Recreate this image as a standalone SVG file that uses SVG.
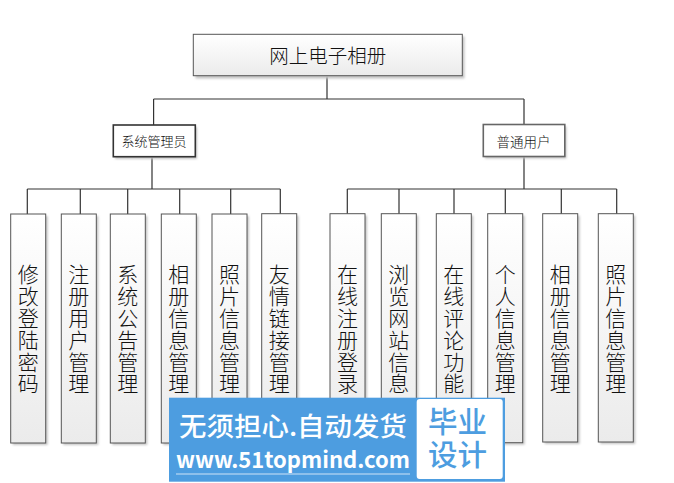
<svg xmlns="http://www.w3.org/2000/svg" width="674" height="483" viewBox="0 0 674 483">
<defs>
<linearGradient id="g" x1="0" y1="0" x2="0" y2="1">
<stop offset="0" stop-color="#ffffff"/>
<stop offset="1" stop-color="#ebebeb"/>
</linearGradient>
<filter id="sh" x="-20%" y="-20%" width="140%" height="140%">
<feGaussianBlur stdDeviation="1"/>
</filter>
</defs>
<style>
.box{fill:url(#g);stroke:#555;stroke-width:1}
.shadow{fill:#c4c4c4;filter:url(#sh)}
.mid{fill:#fff;stroke-width:1.6}
.t{font-family:"Noto Sans CJK SC","Noto Sans",sans-serif;font-weight:300;fill:#111;text-anchor:middle}
.v{font-size:21px}
.ln{stroke:#333;stroke-width:1.2;fill:none}
.wm{font-family:"Noto Sans CJK SC","Noto Sans",sans-serif}
</style>
<rect width="674" height="483" fill="#fff"/>

<g id="connectors">
<path class="ln" d="M327,76V99M153.6,99H524M153.6,99V125M524,99V125"/>
<path class="ln" d="M152,157V189M27.3,189H280.3M27.3,189V214M80.3,189V214M127.7,189V214M179.7,189V214M230.7,189V214M280.3,189V214"/>
<path class="ln" d="M524,157V189M347.3,189H616.7M347.3,189V214M399,189V214M454,189V214M505.3,189V214M561.3,189V214M616.7,189V214"/>
</g>

<g id="root">
<rect class="shadow" x="195.5" y="36.5" width="269" height="42"/>
<rect class="box" x="193.3" y="34.3" width="269" height="41.4"/>
<text class="t" x="327.8" y="63.4" font-size="19.5">网上电子相册</text>
</g>

<g id="admin">
<rect class="shadow" x="115" y="127" width="82" height="32"/>
<rect class="box mid" x="113.3" y="125" width="82" height="31.7" style="stroke:#333"/>
<text class="t" x="154" y="145.5" font-size="13">系统管理员</text>
</g>

<g id="user">
<rect class="shadow" x="485" y="126.5" width="81.5" height="32"/>
<rect class="box mid" x="483.3" y="124.5" width="81.5" height="32" style="stroke:#666"/>
<text class="t" x="523.5" y="146.5" font-size="13.5">普通用户</text>
</g>

<g id="n1"><rect class="shadow" x="12.7" y="216" width="35" height="229"/><rect class="box" x="10.7" y="214" width="35" height="229"/>
<text class="t v"><tspan x="28.2" y="282.4">修</tspan><tspan x="28.2" y="304.2">改</tspan><tspan x="28.2" y="326">登</tspan><tspan x="28.2" y="347.8">陆</tspan><tspan x="28.2" y="369.6">密</tspan><tspan x="28.2" y="391.4">码</tspan></text></g>

<g id="n2"><rect class="shadow" x="63.3" y="216" width="35" height="229"/><rect class="box" x="61.3" y="214" width="35" height="229"/>
<text class="t v"><tspan x="78.8" y="282.4">注</tspan><tspan x="78.8" y="304.2">册</tspan><tspan x="78.8" y="326">用</tspan><tspan x="78.8" y="347.8">户</tspan><tspan x="78.8" y="369.6">管</tspan><tspan x="78.8" y="391.4">理</tspan></text></g>

<g id="n3"><rect class="shadow" x="112.3" y="216" width="35" height="229"/><rect class="box" x="110.3" y="214" width="35" height="229"/>
<text class="t v"><tspan x="127.8" y="282.4">系</tspan><tspan x="127.8" y="304.2">统</tspan><tspan x="127.8" y="326">公</tspan><tspan x="127.8" y="347.8">告</tspan><tspan x="127.8" y="369.6">管</tspan><tspan x="127.8" y="391.4">理</tspan></text></g>

<g id="n4"><rect class="shadow" x="163.3" y="216" width="35" height="229"/><rect class="box" x="161.3" y="214" width="35" height="229"/>
<text class="t v"><tspan x="178.8" y="282.4">相</tspan><tspan x="178.8" y="304.2">册</tspan><tspan x="178.8" y="326">信</tspan><tspan x="178.8" y="347.8">息</tspan><tspan x="178.8" y="369.6">管</tspan><tspan x="178.8" y="391.4">理</tspan></text></g>

<g id="n5"><rect class="shadow" x="214" y="216" width="35" height="229"/><rect class="box" x="212" y="214" width="35" height="229"/>
<text class="t v"><tspan x="229.5" y="282.4">照</tspan><tspan x="229.5" y="304.2">片</tspan><tspan x="229.5" y="326">信</tspan><tspan x="229.5" y="347.8">息</tspan><tspan x="229.5" y="369.6">管</tspan><tspan x="229.5" y="391.4">理</tspan></text></g>

<g id="n6"><rect class="shadow" x="263.7" y="215.7" width="35" height="229"/><rect class="box" x="261.7" y="213.7" width="35" height="229"/>
<text class="t v"><tspan x="279.2" y="282.4">友</tspan><tspan x="279.2" y="304.2">情</tspan><tspan x="279.2" y="326">链</tspan><tspan x="279.2" y="347.8">接</tspan><tspan x="279.2" y="369.6">管</tspan><tspan x="279.2" y="391.4">理</tspan></text></g>

<g id="n7"><rect class="shadow" x="332" y="215.7" width="35" height="229"/><rect class="box" x="330" y="213.7" width="35" height="229"/>
<text class="t v"><tspan x="347.5" y="282.4">在</tspan><tspan x="347.5" y="304.2">线</tspan><tspan x="347.5" y="326">注</tspan><tspan x="347.5" y="347.8">册</tspan><tspan x="347.5" y="369.6">登</tspan><tspan x="347.5" y="391.4">录</tspan></text></g>

<g id="n8"><rect class="shadow" x="383.3" y="215.7" width="35" height="229"/><rect class="box" x="381.3" y="213.7" width="35" height="229"/>
<text class="t v"><tspan x="398.8" y="282.4">浏</tspan><tspan x="398.8" y="304.2">览</tspan><tspan x="398.8" y="326">网</tspan><tspan x="398.8" y="347.8">站</tspan><tspan x="398.8" y="369.6">信</tspan><tspan x="398.8" y="391.4">息</tspan></text></g>

<g id="n9"><rect class="shadow" x="438.3" y="215.7" width="35" height="229"/><rect class="box" x="436.3" y="213.7" width="35" height="229"/>
<text class="t v"><tspan x="453.8" y="282.4">在</tspan><tspan x="453.8" y="304.2">线</tspan><tspan x="453.8" y="326">评</tspan><tspan x="453.8" y="347.8">论</tspan><tspan x="453.8" y="369.6">功</tspan><tspan x="453.8" y="391.4">能</tspan></text></g>

<g id="n10"><rect class="shadow" x="489.7" y="215.7" width="35" height="229"/><rect class="box" x="487.7" y="213.7" width="35" height="229"/>
<text class="t v"><tspan x="505.2" y="282.4">个</tspan><tspan x="505.2" y="304.2">人</tspan><tspan x="505.2" y="326">信</tspan><tspan x="505.2" y="347.8">息</tspan><tspan x="505.2" y="369.6">管</tspan><tspan x="505.2" y="391.4">理</tspan></text></g>

<g id="n11"><rect class="shadow" x="544.7" y="215.7" width="35" height="228.3"/><rect class="box" x="542.7" y="213.7" width="35" height="228.3"/>
<text class="t v"><tspan x="560.2" y="282.4">相</tspan><tspan x="560.2" y="304.2">册</tspan><tspan x="560.2" y="326">信</tspan><tspan x="560.2" y="347.8">息</tspan><tspan x="560.2" y="369.6">管</tspan><tspan x="560.2" y="391.4">理</tspan></text></g>

<g id="n12"><rect class="shadow" x="600.3" y="215.7" width="35" height="228.3"/><rect class="box" x="598.3" y="213.7" width="35" height="228.3"/>
<text class="t v"><tspan x="615.8" y="282.4">照</tspan><tspan x="615.8" y="304.2">片</tspan><tspan x="615.8" y="326">信</tspan><tspan x="615.8" y="347.8">息</tspan><tspan x="615.8" y="369.6">管</tspan><tspan x="615.8" y="391.4">理</tspan></text></g>

<g id="watermark">
<rect x="169" y="397.7" width="336" height="84" fill="#4d9de0"/>
<rect x="416.7" y="399" width="86" height="80" rx="3" fill="#ffffff"/>
<text class="wm" x="179" y="436" font-size="26" font-weight="500" fill="#ffffff" textLength="228" lengthAdjust="spacingAndGlyphs">无须担心.自动发货</text>
<text class="wm" x="176" y="468" font-size="22" font-weight="600" fill="#ffffff" textLength="234" lengthAdjust="spacingAndGlyphs">www.51topmind.com</text>
<line x1="176" y1="474" x2="410" y2="474" stroke="#cfe3f6" stroke-width="1"/>
<text class="wm" x="428" y="433" font-size="29" font-weight="500" fill="#4d9de0" textLength="59" lengthAdjust="spacingAndGlyphs">毕业</text>
<text class="wm" x="428" y="466" font-size="29" font-weight="500" fill="#4d9de0" textLength="59" lengthAdjust="spacingAndGlyphs">设计</text>
</g>
</svg>
